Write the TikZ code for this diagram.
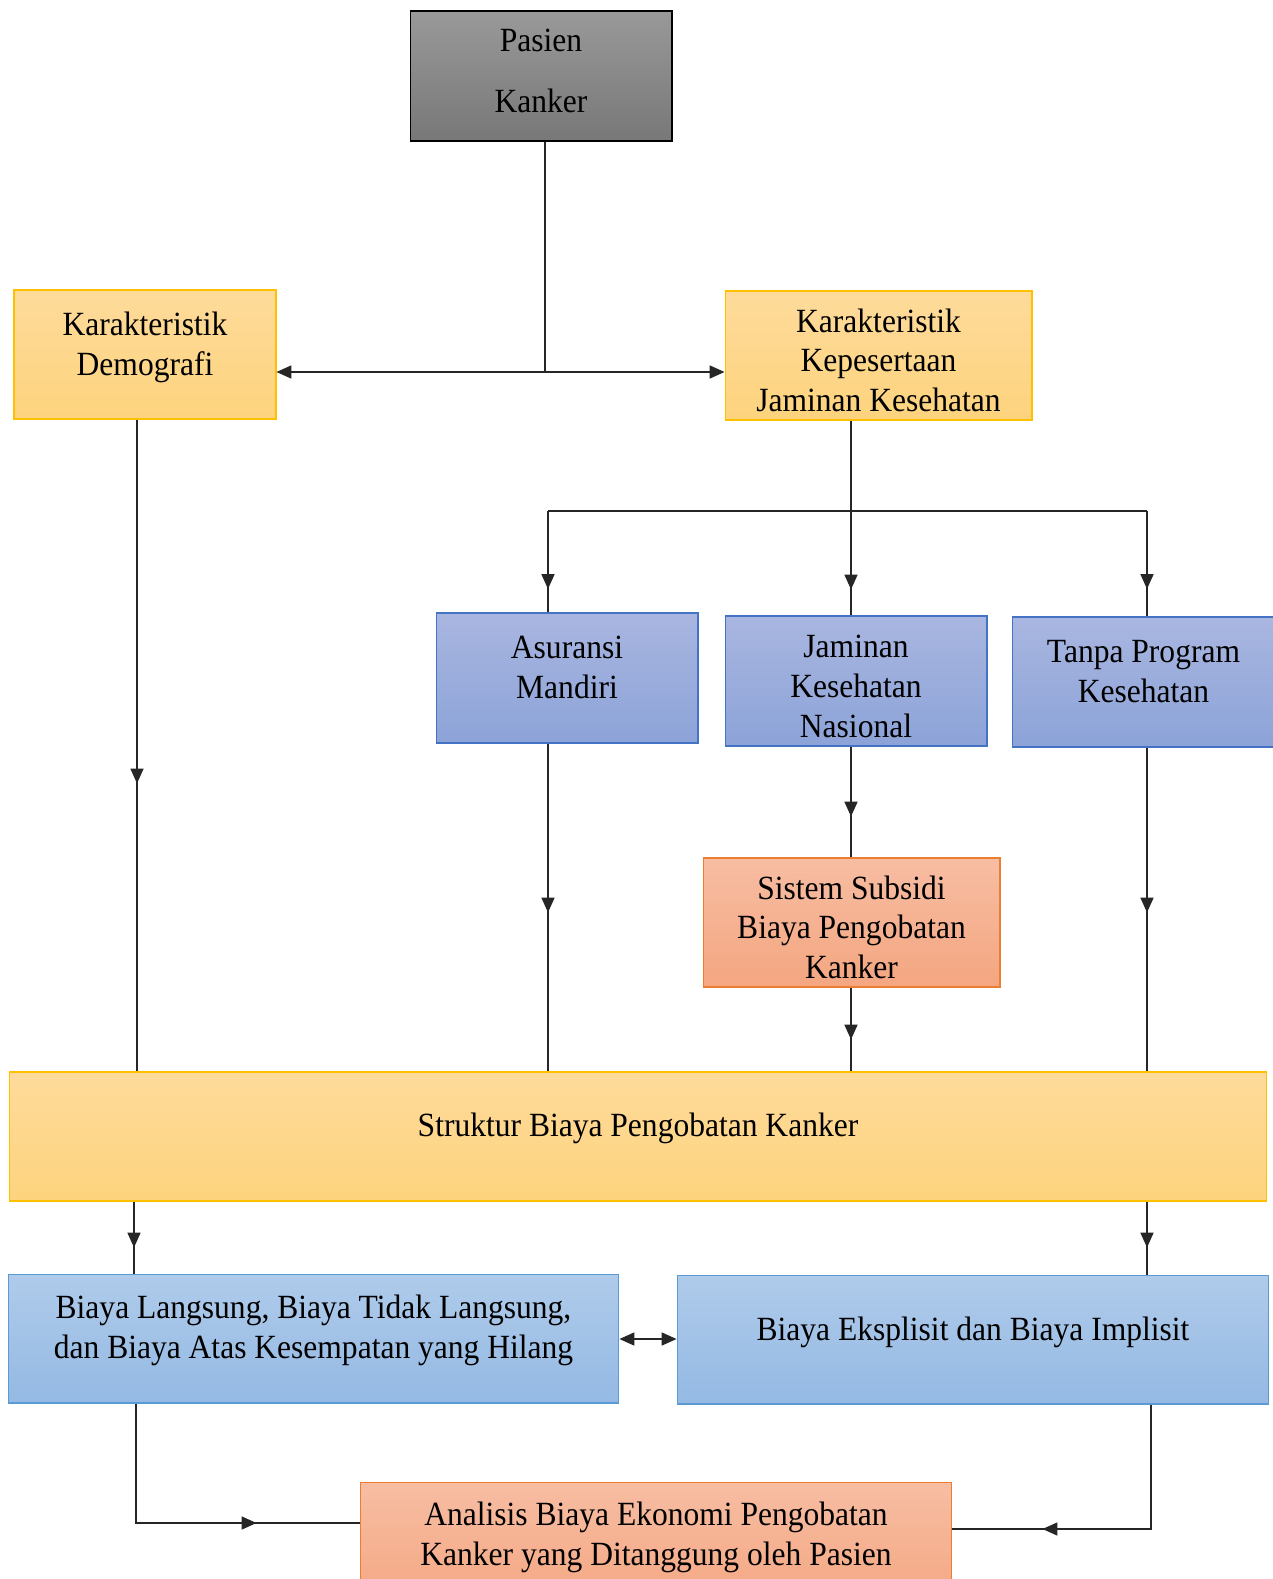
\documentclass[tikz,border=0pt]{standalone}
\usepackage{fontspec}
\setmainfont{Liberation Serif}[FakeStretch=0.93]
\usetikzlibrary{arrows.meta,decorations.markings}

\definecolor{goldtop}{HTML}{FEDB9B}
\definecolor{goldbot}{HTML}{FDD37D}
\definecolor{goldline}{HTML}{FFC000}
\definecolor{bluetop}{HTML}{A9B6E0}
\definecolor{bluebot}{HTML}{8CA3D8}
\definecolor{blueline}{HTML}{4472C4}
\definecolor{skytop}{HTML}{AFCBEA}
\definecolor{skybot}{HTML}{94B9E3}
\definecolor{skyline}{HTML}{5B9BD5}
\definecolor{salmtop}{HTML}{F7BDA3}
\definecolor{salmbot}{HTML}{F4A680}
\definecolor{salmline}{HTML}{ED7D31}

\begin{document}
\begin{tikzpicture}[
    x=0.02cm, y=-0.02cm,
    box/.style={rectangle, inner sep=0pt, align=center, line width=0.6pt,
        font=\fontsize{19.3}{22.7}\selectfont},
    graybox/.style={box, draw=black, top color=black!40, bottom color=black!53},
    goldbox/.style={box, draw=goldline, top color=goldtop, bottom color=goldbot},
    bluebox/.style={box, draw=blueline, top color=bluetop, bottom color=bluebot},
    skybox/.style={box, draw=skyline, top color=skytop, bottom color=skybot},
    salmbox/.style={box, draw=salmline, top color=salmtop, bottom color=salmbot},
    lift/.style={text depth=#1},
    sink/.style={text height=#1},
    link/.style={draw=black!85, line width=0.6pt},
    arrow/.style={link, -{Triangle[length=8.5pt,width=7.5pt]}},
    both/.style={link, {Triangle[length=8.5pt,width=7.5pt]}-{Triangle[length=8.5pt,width=7.5pt]}},
    mid arrow/.style={link, postaction={decorate}, decoration={markings,
        mark=at position #1 with {\arrow{Triangle[length=8.5pt,width=7.5pt]}}}}
]
\useasboundingbox (0,0) rectangle (1272,1579);

% Top
\node[graybox, minimum width=5.24cm, minimum height=2.6cm, lift=0.22cm,
    font=\fontsize{19.3}{34.6}\selectfont] (pas) at (541,76) {Pasien\\Kanker};

% Characteristics
\node[goldbox, minimum width=5.24cm, minimum height=2.58cm, lift=0.42cm] (dem) at (145,354.5) {Karakteristik\\Demografi};
\node[goldbox, minimum width=6.14cm, minimum height=2.58cm, sink=2.26cm] (kep) at (878.5,355.5) {Karakteristik\\Kepesertaan\\Jaminan Kesehatan};

% Programs
\node[bluebox, minimum width=5.24cm, minimum height=2.6cm, lift=0.44cm] (asu) at (567,678) {Asuransi\\Mandiri};
\node[bluebox, minimum width=5.24cm, minimum height=2.6cm, sink=2.26cm] (jkn) at (856,681) {Jaminan\\Kesehatan\\Nasional};
\node[bluebox, minimum width=5.26cm, minimum height=2.6cm, lift=0.43cm] (tan) at (1143.5,682) {Tanpa Program\\Kesehatan};

\node[salmbox, minimum width=5.94cm, minimum height=2.58cm, sink=2.26cm] (sis) at (851.5,922.5) {Sistem Subsidi\\Biaya Pengobatan\\Kanker};

% Cost structure
\node[goldbox, minimum width=25.16cm, minimum height=2.58cm, lift=0.46cm] (str) at (638,1136.5) {Struktur Biaya Pengobatan Kanker};

\node[skybox, minimum width=12.22cm, minimum height=2.58cm, lift=0.46cm] (bl) at (313.5,1338.5) {Biaya Langsung, Biaya Tidak Langsung,\\dan Biaya Atas Kesempatan yang Hilang};
\node[skybox, minimum width=11.84cm, minimum height=2.58cm, lift=0.42cm] (be) at (973,1339.5) {Biaya Eksplisit dan Biaya Implisit};

\node[salmbox, minimum width=11.84cm, minimum height=2.58cm, lift=0.5cm] (ana) at (656,1546.5) {Analisis Biaya Ekonomi Pengobatan\\Kanker yang Ditanggung oleh Pasien};

% Junctions
\coordinate (j1) at (545,372);
\coordinate (j2) at (851,511);
\coordinate (j3) at (548,511);
\coordinate (j4) at (1147,511);
\coordinate (j5) at (136,1523);
\coordinate (j6) at (1151,1529);
\coordinate (j7) at (134,1201);
\coordinate (j8) at (640,1339);

% Connectors
\draw[link] (j1 |- pas.south) -- (j1);
\draw[arrow] (j1) -- (j1 -| dem.east);
\draw[arrow] (j1) -- (j1 -| kep.west);

\draw[mid arrow=3.38cm] (j2 |- kep.south) -- (j2 |- jkn.north);
\draw[link] (j3) -- (j4);
\draw[mid arrow=1.56cm] (j3) -- (j3 |- asu.north);
\draw[mid arrow=1.56cm] (j4) -- (j4 |- tan.north);

\draw[mid arrow=7.28cm] ([xshift=-0.16cm]dem.south) -- ([xshift=-0.16cm]dem.south |- str.north);
\draw[mid arrow=3.38cm] (j3 |- asu.south) -- (j3 |- str.north);
\draw[mid arrow=1.4cm] (j2 |- jkn.south) -- (j2 |- sis.north);
\draw[mid arrow=1.04cm] (j2 |- sis.south) -- (j2 |- str.north);
\draw[mid arrow=3.3cm] (j4 |- tan.south) -- (j4 |- str.north);

\draw[mid arrow=0.92cm] (j7 |- str.south) -- (j7 |- bl.north);
\draw[mid arrow=0.92cm] (j4 |- str.south) -- (j4 |- be.north);
\draw[both] (j8 -| bl.east) -- (j8 -| be.west);

\draw[mid arrow=4.8cm] (j5 |- bl.south) -- (j5) -- (j5 -| ana.west);
\draw[mid arrow=4.66cm] (j6 |- be.south) -- (j6) -- (j6 -| ana.east);

\end{tikzpicture}
\end{document}
